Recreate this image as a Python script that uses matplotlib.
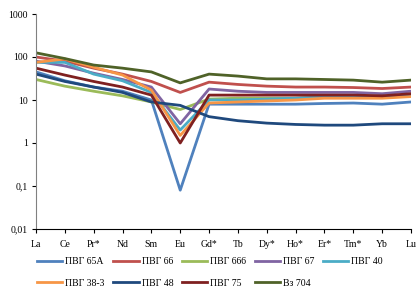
import matplotlib.pyplot as plt
from matplotlib.ticker import FixedLocator, FixedFormatter

plt.rcParams['font.family'] = ['Liberation Serif', 'DejaVu Serif']

elements = ['La', 'Ce', 'Pr*', 'Nd', 'Sm', 'Eu', 'Gd*', 'Tb', 'Dy*', 'Ho*', 'Er*', 'Tm*', 'Yb', 'Lu']

pvg_65a = [45, 28, 20, 16, 10, 0.08, 8, 8, 8, 8, 8.3, 8.5, 8, 9]
pvg_66 = [100, 80, 55, 40, 27, 15, 26, 23, 21, 20, 20, 19.5, 18.5, 20]
pvg_666 = [30, 21, 16, 12.5, 9, 6, 10.5, 11, 11, 11, 11.5, 12, 12, 13]
pvg_67 = [80, 62, 42, 30, 20, 2.8, 18, 16, 15, 15, 15, 15, 14, 16]
pvg_40 = [75, 75, 40, 28, 15, 2.0, 10, 10, 10.5, 11, 12, 12, 12, 13]
pvg_38_3 = [75, 90, 58, 38, 17, 1.5, 8.5, 9, 9.5, 10, 11, 11, 11, 12]
pvg_48 = [40, 27, 20, 15, 9, 7.5, 4.1, 3.3, 2.9, 2.7, 2.6, 2.6, 2.8, 2.8]
pvg_75 = [55, 38, 27, 20, 13, 1.0, 13, 13, 13, 13, 13, 13, 12.5, 14]
vz_704 = [125, 92, 65, 55, 45, 25, 40, 36, 31, 31, 30, 29, 26, 29]

series = [
    ('ПВГ 65А', pvg_65a, '#4f81bd'),
    ('ПВГ 66', pvg_66, '#c0504d'),
    ('ПВГ 666', pvg_666, '#9bbb59'),
    ('ПВГ 67', pvg_67, '#8064a2'),
    ('ПВГ 40', pvg_40, '#4bacc6'),
    ('ПВГ 38-3', pvg_38_3, '#f79646'),
    ('ПВГ 48', pvg_48, '#1f497d'),
    ('ПВГ 75', pvg_75, '#7f2020'),
    ('Вз 704', vz_704, '#4f6228'),
]

fig = plt.figure(figsize=(4.2, 3.0), dpi=100)
ax = fig.add_axes([36 / 420, 1 - 229 / 300, (411 - 36) / 420, (229 - 14) / 300])

x = list(range(len(elements)))
lines = []
for name, vals, col in series:
    ln, = ax.plot(x, vals, color=col, lw=2.0, label=name)
    lines.append(ln)

ax.set_yscale('log')
ax.set_ylim(0.01, 1000)
ax.set_xlim(0, len(elements) - 1)
yt = [0.01, 0.1, 1, 10, 100, 1000]
ax.yaxis.set_major_locator(FixedLocator(yt))
ax.yaxis.set_major_formatter(FixedFormatter(['0,01', '0,1', '1', '10', '100', '1000']))
ax.yaxis.set_minor_locator(FixedLocator([]))
ax.set_xticks(x)
ax.set_xticklabels(elements)
ax.tick_params(axis='both', labelsize=7, length=3, width=0.8, color='black', pad=3)
ax.tick_params(axis='x', pad=5)

ax.spines['top'].set_visible(False)
ax.spines['right'].set_visible(False)
ax.spines['left'].set_color('#808080')
ax.spines['bottom'].set_color('black')

# legend goes row by row in the original
order = [0, 5, 1, 6, 2, 7, 3, 8, 4]
fig.legend([lines[i] for i in order], [series[i][0] for i in order],
           loc='lower center', bbox_to_anchor=(0.5, 0.012), ncol=5, frameon=False,
           fontsize=7, handlelength=2.6, handletextpad=0.3, columnspacing=0.9,
           labelspacing=1.25)

fig.savefig('out.png', dpi=100)
